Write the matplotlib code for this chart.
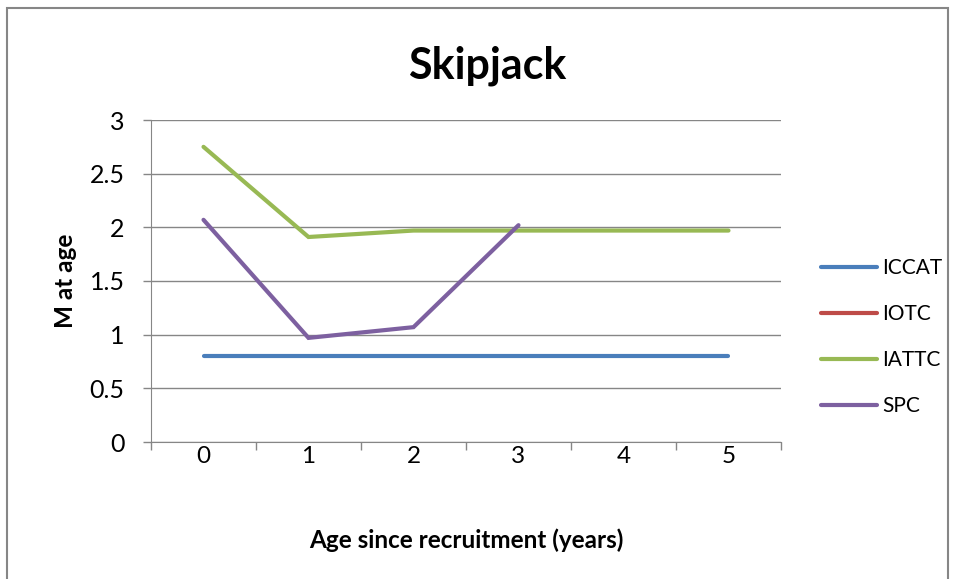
import matplotlib.pyplot as plt
from matplotlib.patches import Rectangle

# data
ages = [0, 1, 2, 3, 4, 5]
iccat = [0.8, 0.8, 0.8, 0.8, 0.8, 0.8]
iotc = []  # in legend but no values plotted
iattc = [2.75, 1.91, 1.97, 1.97, 1.97, 1.97]
spc = [2.07, 0.97, 1.07, 2.02]

series = [
    ("ICCAT", iccat, "#4a7ebb"),
    ("IOTC", iotc, "#be4b48"),
    ("IATTC", iattc, "#98b954"),
    ("SPC", spc, "#7d60a0"),
]

plt.rcParams["font.family"] = ["Lato", "DejaVu Sans"]

fig = plt.figure(figsize=(9.58, 5.79), dpi=100)
ax = fig.add_axes([151 / 958, 137 / 579, 630 / 958, 322 / 579])

for name, vals, color in series:
    ax.plot(ages[:len(vals)], vals, color=color, lw=3, label=name,
            solid_capstyle="round", solid_joinstyle="miter")

ax.set_xlim(-0.5, 5.5)
ax.set_ylim(0, 3)
ax.set_yticks([0, 0.5, 1, 1.5, 2, 2.5, 3])
ax.set_yticklabels(["0", "0.5", "1", "1.5", "2", "2.5", "3"])
ax.set_xticks(ages)
ax.set_xticks([a - 0.5 for a in ages] + [5.5], minor=True)
ax.tick_params(axis="x", which="major", length=0, pad=3, labelsize=17.5)
ax.tick_params(axis="x", which="minor", length=6, color="#868686", width=1)
ax.tick_params(axis="y", length=6, color="#868686", width=1, labelsize=18, pad=13)
ax.grid(axis="y", color="#868686", lw=1)
ax.set_axisbelow(True)
for side in ["top", "right"]:
    ax.spines[side].set_visible(False)
for side in ["left", "bottom"]:
    ax.spines[side].set_color("#868686")

ax.set_title("Skipjack", fontsize=31, fontweight="bold", pad=30, x=0.533)
ax.set_xlabel("Age since recruitment (years)", fontsize=17.5, fontweight="bold", labelpad=44)
ax.set_ylabel("M at age", fontsize=17.5, fontweight="bold", labelpad=9)

ax.legend(loc="center left", bbox_to_anchor=(1.033, 0.326), frameon=False,
          fontsize=15, handlelength=2.7, handletextpad=0.25, labelspacing=1.25)

# chart frame
fig.patches.append(Rectangle((7 / 958, -0.1), 941 / 958, 1.1 - 8 / 579,
                             transform=fig.transFigure, fill=False,
                             edgecolor="#868686", lw=1.5))

fig.savefig("out.png", dpi=100)
